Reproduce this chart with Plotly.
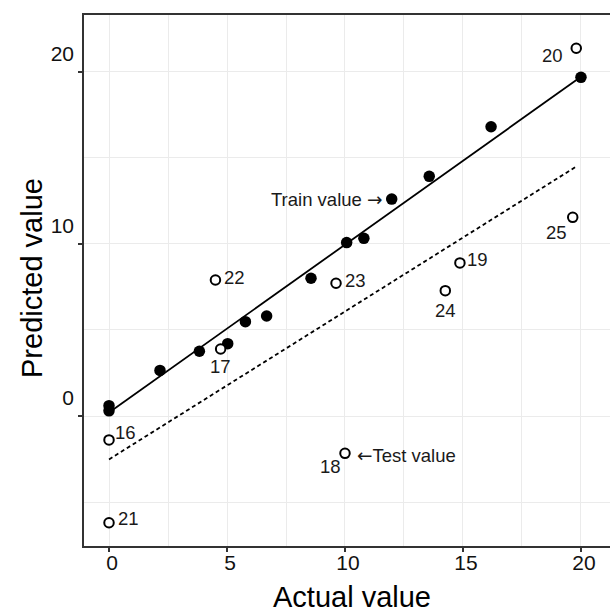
import numpy as np
import plotly.graph_objects as go

# ---- data ----
train_x = [0.0, 0.0, 2.16, 3.83, 5.03, 5.78, 6.68, 8.56, 10.07, 10.8, 11.98, 13.57, 16.19, 20.0]
train_y = [0.6, 0.3, 2.65, 3.76, 4.2, 5.48, 5.81, 8.0, 10.07, 10.32, 12.6, 13.92, 16.8, 19.67]

test_id = ["16", "17", "18", "19", "20", "21", "22", "23", "24", "25"]
test_x = [0.0, 4.73, 10.0, 14.87, 19.8, 0.0, 4.51, 9.62, 14.25, 19.65]
test_y = [-1.39, 3.89, -2.17, 8.89, 21.36, -6.2, 7.9, 7.71, 7.28, 11.54]

# fitted lines (intercept, slope)
train_fit = (0.2, 0.975)
test_fit = (-2.52, 0.859)

x_ticks = [0, 5, 10, 15, 20]
y_ticks = [0, 10, 20]

# label offsets in pixels (dx, dy) per test point - style only
label_offsets = {
    "16": (16, 7), "17": (0, -17), "18": (-14, -13), "19": (18, 3), "20": (-24, -7),
    "21": (19, 4), "22": (19, 2), "23": (19, 3), "24": (0, -20), "25": (-16, -15),
}

W, H = 610, 612
ML, MR, MT, MB = 84, 0, 15, 66
FONT = "Liberation Sans, Arial, sans-serif"
GRID = "#EBEBEB"
AX = "#333333"
LABEL_SIZE = 18.5

fig = go.Figure()

# regression lines
tx = np.array([min(train_x), max(train_x)])
fig.add_trace(go.Scatter(x=tx, y=train_fit[0] + train_fit[1] * tx, mode="lines",
                         line=dict(color="black", width=1.8), hoverinfo="skip", showlegend=False))
sx = np.array([min(test_x), max(test_x)])
fig.add_trace(go.Scatter(x=sx, y=test_fit[0] + test_fit[1] * sx, mode="lines",
                         line=dict(color="black", width=1.8, dash="4px,3px"), hoverinfo="skip",
                         showlegend=False))

# points
fig.add_trace(go.Scatter(x=train_x, y=train_y, mode="markers",
                         marker=dict(symbol="circle", size=11.5, color="black"), showlegend=False))
fig.add_trace(go.Scatter(x=test_x, y=test_y, mode="markers",
                         marker=dict(symbol="circle", size=9.5, color="white",
                                     line=dict(color="black", width=2)), showlegend=False))

annotations = []
for i, lab in enumerate(test_id):
    dx, dy = label_offsets[lab]
    annotations.append(dict(x=test_x[i], y=test_y[i], text=lab, showarrow=False,
                            xshift=dx, yshift=dy, xanchor="center", yanchor="middle",
                            font=dict(family=FONT, size=LABEL_SIZE, color="#1a1a1a")))

# callouts
ti = 10
annotations.append(dict(x=train_x[ti], y=train_y[ti],
                        text="Train value <span style='font-family:DejaVu Sans'>\u2192</span>",
                        showarrow=False, xanchor="right", yanchor="middle", xshift=-8, yshift=0,
                        font=dict(family=FONT, size=LABEL_SIZE, color="#1a1a1a")))
si = test_id.index("18")
annotations.append(dict(x=test_x[si], y=test_y[si],
                        text="<span style='font-family:DejaVu Sans'>\u2190</span>Test value",
                        showarrow=False, xanchor="left", yanchor="middle", xshift=10, yshift=-2,
                        font=dict(family=FONT, size=LABEL_SIZE, color="#1a1a1a")))

# axis titles
pw, ph = W - ML - MR, H - MT - MB
annotations.append(dict(xref="paper", yref="paper", x=(352 - ML) / pw, y=(H - MB - 597) / ph,
                        text="Actual value", showarrow=False, xanchor="center", yanchor="middle",
                        font=dict(family=FONT, size=29, color="black")))
annotations.append(dict(xref="paper", yref="paper", x=(32 - ML) / pw, y=(H - MB - 278) / ph,
                        text="Predicted value", showarrow=False, xanchor="center", yanchor="middle",
                        textangle=-90, font=dict(family=FONT, size=29, color="black")))

fig.update_layout(
    width=W, height=H,
    margin=dict(l=ML, r=MR, t=MT, b=MB, pad=0),
    paper_bgcolor="white", plot_bgcolor="white",
    annotations=annotations,
    xaxis=dict(range=[-1.06, 21.23], tickvals=x_ticks, ticktext=[str(v) for v in x_ticks],
               showgrid=True, gridcolor=GRID, gridwidth=1.3, zeroline=False,
               minor=dict(dtick=2.5, tick0=0, showgrid=True, gridcolor=GRID, gridwidth=1.1),
               showline=True, mirror=True, linecolor=AX, linewidth=1.6,
               ticks="outside", ticklen=4, tickwidth=1.5, tickcolor=AX,
               tickfont=dict(family=FONT, size=21, color="#111111"),
               ticklabelshift=3, ticklabelstandoff=-7, fixedrange=True),
    yaxis=dict(range=[-7.55, 23.29], tickvals=y_ticks, ticktext=[str(v) for v in y_ticks],
               showgrid=True, gridcolor=GRID, gridwidth=1.3, zeroline=False,
               minor=dict(dtick=5, tick0=0, showgrid=True, gridcolor=GRID, gridwidth=1.1),
               showline=True, mirror=False, linecolor=AX, linewidth=1.6,
               ticks="outside", ticklen=4, tickwidth=1.5, tickcolor=AX,
               tickfont=dict(family=FONT, size=21, color="#111111"),
               ticklabelshift=-18, ticklabelstandoff=0, fixedrange=True),
)

fig.write_html("out.html")
